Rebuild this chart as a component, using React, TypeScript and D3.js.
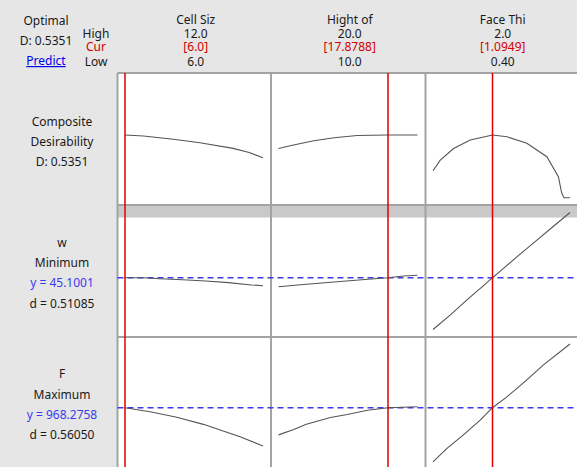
import React from "react";
import * as d3 from "d3";

// ---- Data ----
const factorNames = ["Cell Siz", "Hight of", "Face Thi"];
const factorHigh = ["12.0", "20.0", "2.0"];
const factorCurLabel = ["[6.0]", "[17.8788]", "[1.0949]"];
const factorLow = ["6.0", "10.0", "0.40"];
const factorDomains: [number, number][] = [[6, 12], [10, 20], [0.4, 2.0]];
const factorCur = [6.0, 17.8788, 1.0949];

// Composite desirability curves (x, D)
const compCell: [number, number][] = [[6, 0.5351], [6.8, 0.527], [8.1, 0.499], [9.26, 0.469], [10.7, 0.421], [11.4, 0.385], [12, 0.341]];
const compHight: [number, number][] = [[10, 0.42], [11, 0.448], [12.54, 0.486], [14, 0.512], [15.66, 0.5308], [17.88, 0.5351], [20, 0.5351]];
const compFace: [number, number][] = [[0.4, 0.23], [0.485, 0.32], [0.64, 0.42], [0.835, 0.492], [1.0949, 0.5351], [1.263, 0.52], [1.496, 0.464], [1.73, 0.35], [1.864, 0.18], [1.904, 0.037], [1.93, 0], [2.0, 0]];

// w response (minimize)
const wCell: [number, number][] = [[6, 45.1], [6.8, 45.05], [7.5, 44.6], [8.5, 44.1], [9.5, 43.5], [10.5, 42.7], [11.5, 41.6], [12, 41.2]];
const wHight: [number, number][] = [[10, 40.7], [12, 41.9], [14, 43.0], [16, 44.1], [17.88, 45.1], [19, 45.9], [20, 46.3]];
const wFace: [number, number][] = [[0.4, 20], [0.6, 27], [0.8, 34.5], [1.0, 41.6], [1.0949, 45.1], [1.2, 48.8], [1.4, 55.9], [1.6, 62.8], [1.8, 69.8], [2.0, 76.7]];
const wDomain: [number, number] = [20, 76.7];

// F response (maximize)
const fCell: [number, number][] = [[6, 968.3], [7.09, 948], [8.25, 921], [9.41, 886], [11.0, 825], [12, 779]];
const fHight: [number, number][] = [[10, 834], [11.1, 861], [12.0, 887], [13.74, 920], [14.94, 935], [16.4, 956], [17.88, 968.3], [20, 973]];
const fFace: [number, number][] = [[0.4, 701], [0.563, 767], [0.738, 828], [0.951, 907], [1.0949, 968.3], [1.263, 1022], [1.36, 1056], [1.496, 1106], [1.69, 1180], [2.0, 1283]];
const fDomain: [number, number] = [700, 1283];

const wTarget = 45.1001;
const fTarget = 968.2758;

// ---- Layout ----
const W = 577, H = 467;
const colEdges = [117.5, 271, 425.5, 578];
const TOP = 73;
const R1B = 205;
const BAND_B = 217.5;
const R2B = 337;
const BOT = 475;
const FONT = "'Noto Sans', 'Open Sans', sans-serif";

export default function App() {
  const xScales = factorDomains.map((dom, i) =>
    d3.scaleLinear().domain(dom).range([colEdges[i] + 7.5, colEdges[i + 1] - 8])
  );
  const yComp = d3.scaleLinear().domain([0, 1]).range([197.7, 80.5]);
  const yW = d3.scaleLinear().domain(wDomain).range([329.5, 212.5]);
  const yF = d3.scaleLinear().domain(fDomain).range([462, 344]);

  const rows = [
    { y: yComp, curves: [compCell, compHight, compFace] },
    { y: yW, curves: [wCell, wHight, wFace] },
    { y: yF, curves: [fCell, fHight, fFace] },
  ];

  const paths: JSX.Element[] = [];
  rows.forEach((r, ri) => {
    r.curves.forEach((c, ci) => {
      const line = d3
        .line<[number, number]>()
        .x((d) => xScales[ci](d[0]))
        .y((d) => r.y(d[1]));
      paths.push(
        <path key={`c${ri}-${ci}`} d={line(c) || ""} fill="none" stroke="#555" strokeWidth={1.1} />
      );
    });
  });

  const gray = "#a3a3a3";
  const textCol = "#1a1a1a";
  const red = "#d40000";
  const blue = "#3a3aee";

  return (
    <svg width={W} height={H} style={{ position: "absolute", left: 0, top: 0 }} fontFamily={FONT}>
      <rect x={0} y={0} width={W} height={H} fill="#e6e6e6" />
      <rect x={colEdges[0]} y={TOP} width={W - colEdges[0]} height={BOT - TOP} fill="#fff" />
      <rect x={colEdges[0]} y={R1B} width={W - colEdges[0]} height={BAND_B - R1B} fill="#c9c9c9" />

      {/* borders */}
      <line x1={colEdges[0]} x2={W} y1={TOP} y2={TOP} stroke={gray} strokeWidth={2} />
      <line x1={colEdges[0]} x2={W} y1={R1B} y2={R1B} stroke={gray} strokeWidth={2} />
      <line x1={colEdges[0]} x2={W} y1={R2B} y2={R2B} stroke={gray} strokeWidth={2} />
      {colEdges.slice(0, 3).map((x, i) => (
        <line key={`v${i}`} x1={x} x2={x} y1={TOP} y2={BOT} stroke={gray} strokeWidth={2} />
      ))}

      {/* target dashed lines */}
      <line x1={colEdges[0]} x2={W} y1={yW(wTarget)} y2={yW(wTarget)} stroke={blue} strokeWidth={1.5} strokeDasharray="6,4" />
      <line x1={colEdges[0]} x2={W} y1={yF(fTarget)} y2={yF(fTarget)} stroke={blue} strokeWidth={1.5} strokeDasharray="6,4" />

      {paths}

      {/* current setting lines */}
      {factorCur.map((v, i) => (
        <line key={`r${i}`} x1={xScales[i](v)} x2={xScales[i](v)} y1={TOP} y2={BOT} stroke="#e00000" strokeWidth={1.5} />
      ))}

      {/* header */}
      <g fontSize={12} fill={textCol} textAnchor="middle">
        <text x={46} y={25}>Optimal</text>
        <text x={46} y={45}>D: 0.5351</text>
        <text x={46} y={65} fill="#0000ee" textDecoration="underline">Predict</text>
        <text x={96} y={38}>High</text>
        <text x={96} y={51} fill={red}>Cur</text>
        <text x={96} y={66}>Low</text>
        {factorNames.map((n, i) => {
          const cx = (colEdges[i] + Math.min(colEdges[i + 1], W)) / 2 + 1.5;
          return (
            <g key={`h${i}`}>
              <text x={cx} y={24}>{n}</text>
              <text x={cx} y={38}>{factorHigh[i]}</text>
              <text x={cx} y={51} fill={red}>{factorCurLabel[i]}</text>
              <text x={cx} y={66}>{factorLow[i]}</text>
            </g>
          );
        })}
      </g>

      {/* row labels */}
      <g fontSize={12} fill={textCol} textAnchor="middle">
        <text x={62} y={126}>Composite</text>
        <text x={62} y={146}>Desirability</text>
        <text x={62} y={166}>D: 0.5351</text>

        <text x={62} y={247}>w</text>
        <text x={62} y={267}>Minimum</text>
        <text x={62} y={287} fill={blue}>y = 45.1001</text>
        <text x={62} y={308}>d = 0.51085</text>

        <text x={62} y={378}>F</text>
        <text x={62} y={399}>Maximum</text>
        <text x={62} y={419} fill={blue}>y = 968.2758</text>
        <text x={62} y={439}>d = 0.56050</text>
      </g>
    </svg>
  );
}
